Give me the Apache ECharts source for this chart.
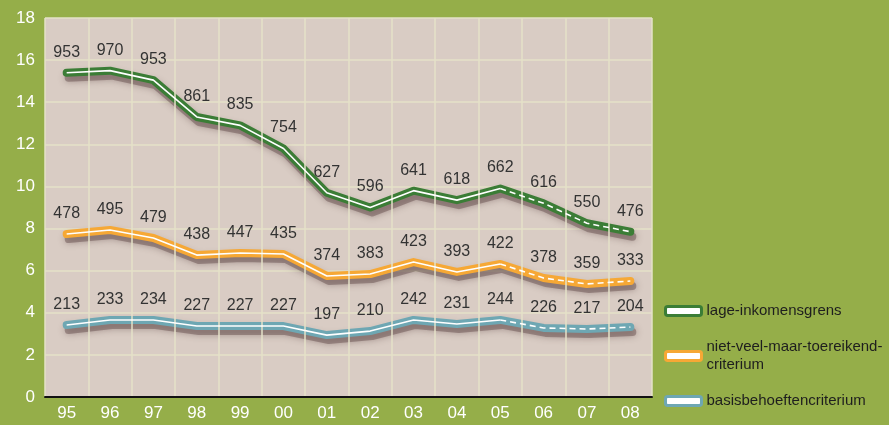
<!DOCTYPE html>
<html>
<head>
<meta charset="utf-8">
<script src="https://cdn.jsdelivr.net/npm/echarts@6/dist/echarts.min.js"></script>
<style>
  html, body { margin: 0; padding: 0; background: #95ae49; }
  #chart { width: 889px; height: 425px; }
</style>
</head>
<body>
<div id="chart"></div>
<script>
const years = ['95', '96', '97', '98', '99', '00', '01', '02', '03', '04', '05', '06', '07', '08']

// percentages (y axis)
const lageInkomens = [15.4, 15.5, 15.05, 13.3, 12.9, 11.8, 9.7, 9.0, 9.8, 9.35, 9.9, 9.2, 8.25, 7.85]
const nietVeel = [7.74, 7.93, 7.55, 6.74, 6.84, 6.79, 5.75, 5.84, 6.41, 5.94, 6.32, 5.65, 5.37, 5.51]
const basisBehoeften = [3.42, 3.66, 3.66, 3.37, 3.37, 3.37, 2.94, 3.13, 3.66, 3.47, 3.66, 3.28, 3.23, 3.32]

// counts (x 1000) shown as labels
const lageInkomensCount = [953, 970, 953, 861, 835, 754, 627, 596, 641, 618, 662, 616, 550, 476]
const nietVeelCount = [478, 495, 479, 438, 447, 435, 374, 383, 423, 393, 422, 378, 359, 333]
const basisBehoeftenCount = [213, 233, 234, 227, 227, 227, 197, 210, 242, 231, 244, 226, 217, 204]

const lastActual = 10 // index of '05', estimates after that

const font = '"Liberation Sans", Arial, sans-serif'
const chart = echarts.init(document.getElementById('chart'))

const names = ['lage-inkomensgrens', 'niet-veel-maar-toereikend-\ncriterium', 'basisbehoeftencriterium']
const colors = ['#3b7d36', '#f6a835', '#6ea7b3']
const values = [lageInkomens, nietVeel, basisBehoeften]
const counts = [lageInkomensCount, nietVeelCount, basisBehoeftenCount]

const series = []
values.forEach((vals, k) => {
  // soft drop shadow, drawn in a second grid shifted a few pixels down/right
  series.push({
    type: 'line',
    xAxisIndex: 1,
    yAxisIndex: 1,
    data: vals,
    symbol: 'none',
    z: 1,
    silent: true,
    lineStyle: {
      color: 'rgba(85,60,60,0.4)',
      width: 8,
      cap: 'round',
      join: 'round',
      shadowColor: 'rgba(85,60,60,1)',
      shadowBlur: 7,
    },
  })
  series.push({
    name: names[k],
    type: 'line',
    data: vals,
    symbol: 'circle',
    symbolSize: 1,
    z: 2,
    lineStyle: {
      color: colors[k],
      width: 8,
      cap: 'round',
      join: 'round',
    },
    itemStyle: {color: 'rgba(0,0,0,0)'},
    label: {
      show: true,
      position: 'top',
      distance: 12,
      color: '#333',
      fontFamily: font,
      fontSize: 16,
      formatter: (p) => counts[k][p.dataIndex],
    },
  })
  series.push({
    type: 'line',
    data: vals.map((v, i) => i <= lastActual ? v : null),
    symbol: 'none',
    z: 3,
    silent: true,
    lineStyle: {color: '#fff', width: 1.6},
  })
  series.push({
    type: 'line',
    data: vals.map((v, i) => i >= lastActual ? v : null),
    symbol: 'none',
    z: 3,
    silent: true,
    lineStyle: {color: '#fff', width: 1.6, type: [6, 4]},
  })
})

chart.setOption({
  backgroundColor: '#95ae49',
  animation: false,
  grid: [{
    left: 45,
    right: 237,
    top: 18,
    bottom: 28,
    show: true,
    backgroundColor: '#d9ccc4',
    borderWidth: 0,
  }, {
    left: 47,
    right: 235,
    top: 23,
    bottom: 23,
  }],
  legend: {
    orient: 'vertical',
    left: 659,
    top: 297,
    itemWidth: 36,
    itemHeight: 9,
    itemGap: 18,
    icon: 'roundRect',
    textStyle: {
      color: '#1e1e1e',
      fontFamily: font,
      fontSize: 15,
      lineHeight: 18,
    },
    data: names.map((n, k) => ({
      name: n,
      itemStyle: {color: '#fff', borderColor: colors[k], borderWidth: 3},
    })),
  },
  xAxis: [{
    type: 'category',
    data: years,
    boundaryGap: true,
    axisLine: {lineStyle: {color: '#111', width: 2}},
    axisTick: {show: false},
    axisLabel: {color: '#fff', fontFamily: font, fontSize: 17, margin: 8},
    splitLine: {show: true, interval: 0, lineStyle: {color: '#e5e2c8', width: 1.5}},
    z: 3,
  }, {
    type: 'category',
    gridIndex: 1,
    data: years,
    boundaryGap: true,
    show: false,
  }],
  yAxis: [{
    type: 'value',
    min: 0,
    max: 18,
    interval: 2,
    axisLine: {show: false},
    axisTick: {show: false},
    axisLabel: {color: '#fff', fontFamily: font, fontSize: 17, margin: 10},
    splitLine: {lineStyle: {color: '#e5e2c8', width: 1.5}},
  }, {
    type: 'value',
    gridIndex: 1,
    min: 0,
    max: 18,
    interval: 2,
    show: false,
  }],
  series: series,
})
</script>
</body>
</html>
